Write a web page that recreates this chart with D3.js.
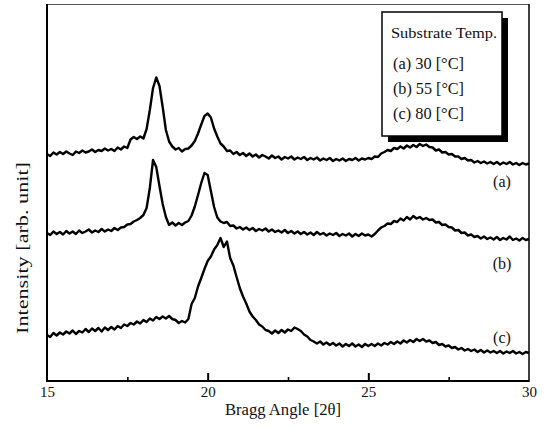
<!DOCTYPE html>
<html>
<head>
<meta charset="utf-8">
<script src="https://cdn.jsdelivr.net/npm/d3@7"></script>
<style>
  html, body { margin: 0; padding: 0; background: #fff; }
  svg { display: block; }
  text { font-family: "Liberation Serif", "Times New Roman", serif; fill: #111; }
</style>
</head>
<body>
<svg id="chart" width="550" height="439"></svg>
<script>
// ---- data (intensity in arbitrary units, curves offset as in the figure) ----
const seriesNames = ["(a)", "(b)", "(c)"];
const legendTitle = "Substrate Temp.";
const legendItems = ["(a) 30 [°C]", "(b) 55 [°C]", "(c) 80 [°C]"];
const majorTicks = [15, 20, 25, 30];
const minorTicks = [17.5, 22.5, 27.5];
const xTitle = "Bragg Angle [2θ]";
const yTitle = "Intensity [arb. unit]";

// sampling grid of the diffractograms: 15.0 ... 30.0 deg, 0.1 deg step
const twoTheta = d3.range(151).map(i => +(15 + i * 0.1).toFixed(1));

const seriesA = [
  45.4,45.0,45.7,45.3,45.8,45.4,45.9,45.5,45.2,45.9,
  45.6,46.1,45.7,45.9,46.3,45.8,46.2,46.0,46.5,46.1,
  46.4,46.0,46.7,46.3,46.9,46.6,48.3,48.8,48.4,48.9,
  48.5,50.4,54.2,58.6,60.7,59.0,54.8,50.2,47.9,46.9,
  46.3,46.6,45.9,46.4,46.5,47.1,48.0,49.5,51.3,53.0,
  53.5,52.7,50.5,48.9,47.5,46.9,46.0,46.1,45.4,45.8,
  45.2,45.6,45.0,45.5,44.9,45.3,44.7,45.2,44.9,44.5,
  45.1,44.6,44.9,44.3,44.8,44.5,44.9,44.3,44.7,44.4,
  44.8,44.2,44.6,44.3,44.7,44.1,44.5,44.2,44.6,44.0,
  44.4,44.1,44.5,44.0,44.4,44.2,44.6,44.1,44.5,44.3,
  44.6,44.4,44.9,44.8,45.5,45.8,46.2,46.0,46.6,46.4,
  46.9,46.5,47.1,46.7,47.2,46.8,47.4,47.0,47.3,46.8,
  46.7,46.1,46.3,45.7,45.8,45.3,45.4,44.9,44.9,44.4,
  44.6,44.1,44.2,43.7,44.0,43.6,43.9,43.5,43.8,43.4,
  43.8,43.3,43.7,43.4,43.8,43.3,43.6,43.2,43.6,43.3,
  43.5
];

const seriesB = [
  29.6,29.2,29.9,29.4,29.8,29.3,30.0,29.5,29.9,29.4,
  30.1,29.6,29.9,30.3,29.7,30.1,29.8,30.4,29.9,30.3,
  30.0,30.6,30.2,30.7,30.8,31.3,31.4,31.9,32.2,32.6,
  33.2,34.6,38.6,44.2,42.8,39.0,35.4,32.8,31.2,31.7,
  31.1,31.6,31.2,31.7,32.0,33.1,34.9,37.2,39.6,41.6,
  41.2,38.0,34.8,32.7,31.9,31.6,31.8,31.0,31.1,30.5,
  30.8,30.3,30.7,30.2,30.6,30.0,30.4,30.1,30.5,29.9,
  30.3,29.8,30.1,29.7,30.2,29.6,30.0,29.5,29.9,29.4,
  29.8,29.3,29.7,29.2,29.8,29.3,29.6,29.1,29.5,29.2,
  29.6,29.0,29.4,29.1,29.5,28.9,29.4,29.0,29.5,29.1,
  29.3,28.9,29.4,30.1,30.7,31.0,31.5,31.4,32.0,31.8,
  32.5,32.1,32.8,32.3,33.0,32.5,32.8,32.3,32.6,32.2,
  32.3,31.7,31.8,31.2,31.3,30.8,30.7,30.1,30.2,29.6,
  29.7,29.1,29.3,28.8,29.0,28.5,28.9,28.4,28.7,28.3,
  28.8,28.2,28.6,28.3,28.9,28.2,28.5,28.1,28.6,28.2,
  28.4
];

const seriesC = [
  9.2,8.8,9.6,9.1,9.7,9.3,9.9,9.5,10.1,9.4,
  10.0,9.7,10.4,9.8,10.5,10.0,10.6,9.9,10.7,10.2,
  10.8,10.3,11.0,10.6,11.3,11.0,11.6,11.3,11.9,11.5,
  12.2,11.8,12.5,12.1,12.8,12.4,12.9,12.5,13.0,12.4,
  12.2,11.6,12.0,11.7,12.4,15.4,16.6,18.9,20.6,22.4,
  24.0,24.9,26.3,27.2,28.6,26.8,27.9,24.6,23.1,20.8,
  18.6,16.9,15.5,13.9,12.9,12.2,11.3,10.9,10.2,10.0,
  9.5,10.1,9.6,10.2,9.7,10.3,10.0,10.7,10.4,10.0,
  9.3,8.9,8.2,7.9,7.5,7.9,7.3,7.7,7.2,7.6,
  7.1,7.5,6.9,7.4,7.0,7.5,6.9,7.3,6.8,7.4,
  7.0,7.4,7.0,7.5,7.1,7.6,7.3,7.8,7.4,7.9,
  7.5,8.1,7.7,8.2,7.8,8.4,8.0,8.4,7.9,8.1,
  7.6,7.8,7.2,7.4,6.9,7.1,6.6,6.8,6.3,6.6,
  6.1,6.4,6.0,6.3,5.8,6.2,5.7,6.1,5.7,6.0,
  5.6,6.0,5.5,5.9,5.6,6.0,5.5,5.8,5.4,5.8,
  5.6
];

// series label anchor values (intensity at right edge where label sits)
const labelLevels = [40.0, 23.6, 8.8];

// ---- layout ----
const svg = d3.select("#chart");
const margin = { left: 47, right: 21, top: 4, bottom: 58 };
const W = 550, H = 439;
const x = d3.scaleLinear().domain([15, 30]).range([margin.left, W - margin.right]);
const y = d3.scaleLinear().domain([0, 75.4]).range([H - margin.bottom, margin.top]);

const x0 = x.range()[0], x1 = x.range()[1];
const yb = y.range()[0], yt = y.range()[1];

// top border (thin, faint as in the scan)
svg.append("line").attr("x1", x0).attr("x2", x1).attr("y1", yt + 0.5).attr("y2", yt + 0.5)
  .attr("stroke", "#555").attr("stroke-width", 1);

// curves
const line = d3.line().x((d, i) => x(twoTheta[i])).y(d => y(d));
[seriesA, seriesB, seriesC].forEach(s => {
  svg.append("path").datum(s).attr("d", line)
    .attr("fill", "none").attr("stroke", "#000")
    .attr("stroke-width", 2.4).attr("stroke-linejoin", "round");
});

// frame: left, right
svg.append("line").attr("x1", x0).attr("x2", x0).attr("y1", yt).attr("y2", yb + 1)
  .attr("stroke", "#000").attr("stroke-width", 2);
svg.append("line").attr("x1", x1).attr("x2", x1).attr("y1", yt).attr("y2", yb + 1)
  .attr("stroke", "#000").attr("stroke-width", 1.5);

// bottom axis with major (labelled) ticks, inward
const axisMajor = d3.axisBottom(x).tickValues(majorTicks).tickSize(-8).tickPadding(5)
  .tickFormat(d3.format("d"));
const gx = svg.append("g").attr("transform", `translate(0,${yb})`).call(axisMajor);
gx.select(".domain").attr("stroke-width", 2.2).attr("d", `M${x0},0H${x1}`);
gx.selectAll(".tick line").attr("stroke-width", 2);
gx.selectAll(".tick text").attr("font-family", "Liberation Serif").attr("font-size", 15)
  .attr("fill", "#111");
gx.selectAll(".tick").filter(d => d === 15 || d === 30).select("line").remove();

const axisMinor = d3.axisBottom(x).tickValues(minorTicks).tickSize(-4).tickFormat("");
const gm = svg.append("g").attr("transform", `translate(0,${yb})`).call(axisMinor);
gm.select(".domain").remove();
gm.selectAll(".tick line").attr("stroke-width", 1.6);

// axis titles
svg.append("text").attr("x", 283).attr("y", 415).attr("text-anchor", "middle")
  .attr("font-size", 16).attr("textLength", 116).attr("lengthAdjust", "spacingAndGlyphs")
  .text(xTitle);
svg.append("text").attr("transform", "translate(28,248) rotate(-90)").attr("text-anchor", "middle")
  .attr("font-size", 17).attr("textLength", 172).attr("lengthAdjust", "spacingAndGlyphs")
  .text(yTitle);

// series labels at right
seriesNames.forEach((n, i) => {
  svg.append("text").attr("x", 502).attr("y", y(labelLevels[i]) + 6).attr("text-anchor", "middle")
    .attr("font-size", 16).text(n);
});

// legend box with drop shadow
const lg = { x: 382, y: 12, w: 120, h: 124, off: 6 };
svg.append("rect").attr("x", lg.x + lg.off).attr("y", lg.y + lg.off).attr("width", lg.w).attr("height", lg.h)
  .attr("fill", "#000");
svg.append("rect").attr("x", lg.x).attr("y", lg.y).attr("width", lg.w).attr("height", lg.h)
  .attr("fill", "#fff").attr("stroke", "#000").attr("stroke-width", 1.5);
svg.append("text").attr("x", lg.x + 9).attr("y", lg.y + 26).attr("font-size", 15.5)
  .attr("textLength", 106).attr("lengthAdjust", "spacingAndGlyphs").text(legendTitle);
legendItems.forEach((t, i) => {
  svg.append("text").attr("x", lg.x + 11).attr("y", lg.y + 57 + i * 25).attr("font-size", 16)
    .attr("textLength", 71).attr("lengthAdjust", "spacingAndGlyphs").text(t);
});
</script>
</body>
</html>
